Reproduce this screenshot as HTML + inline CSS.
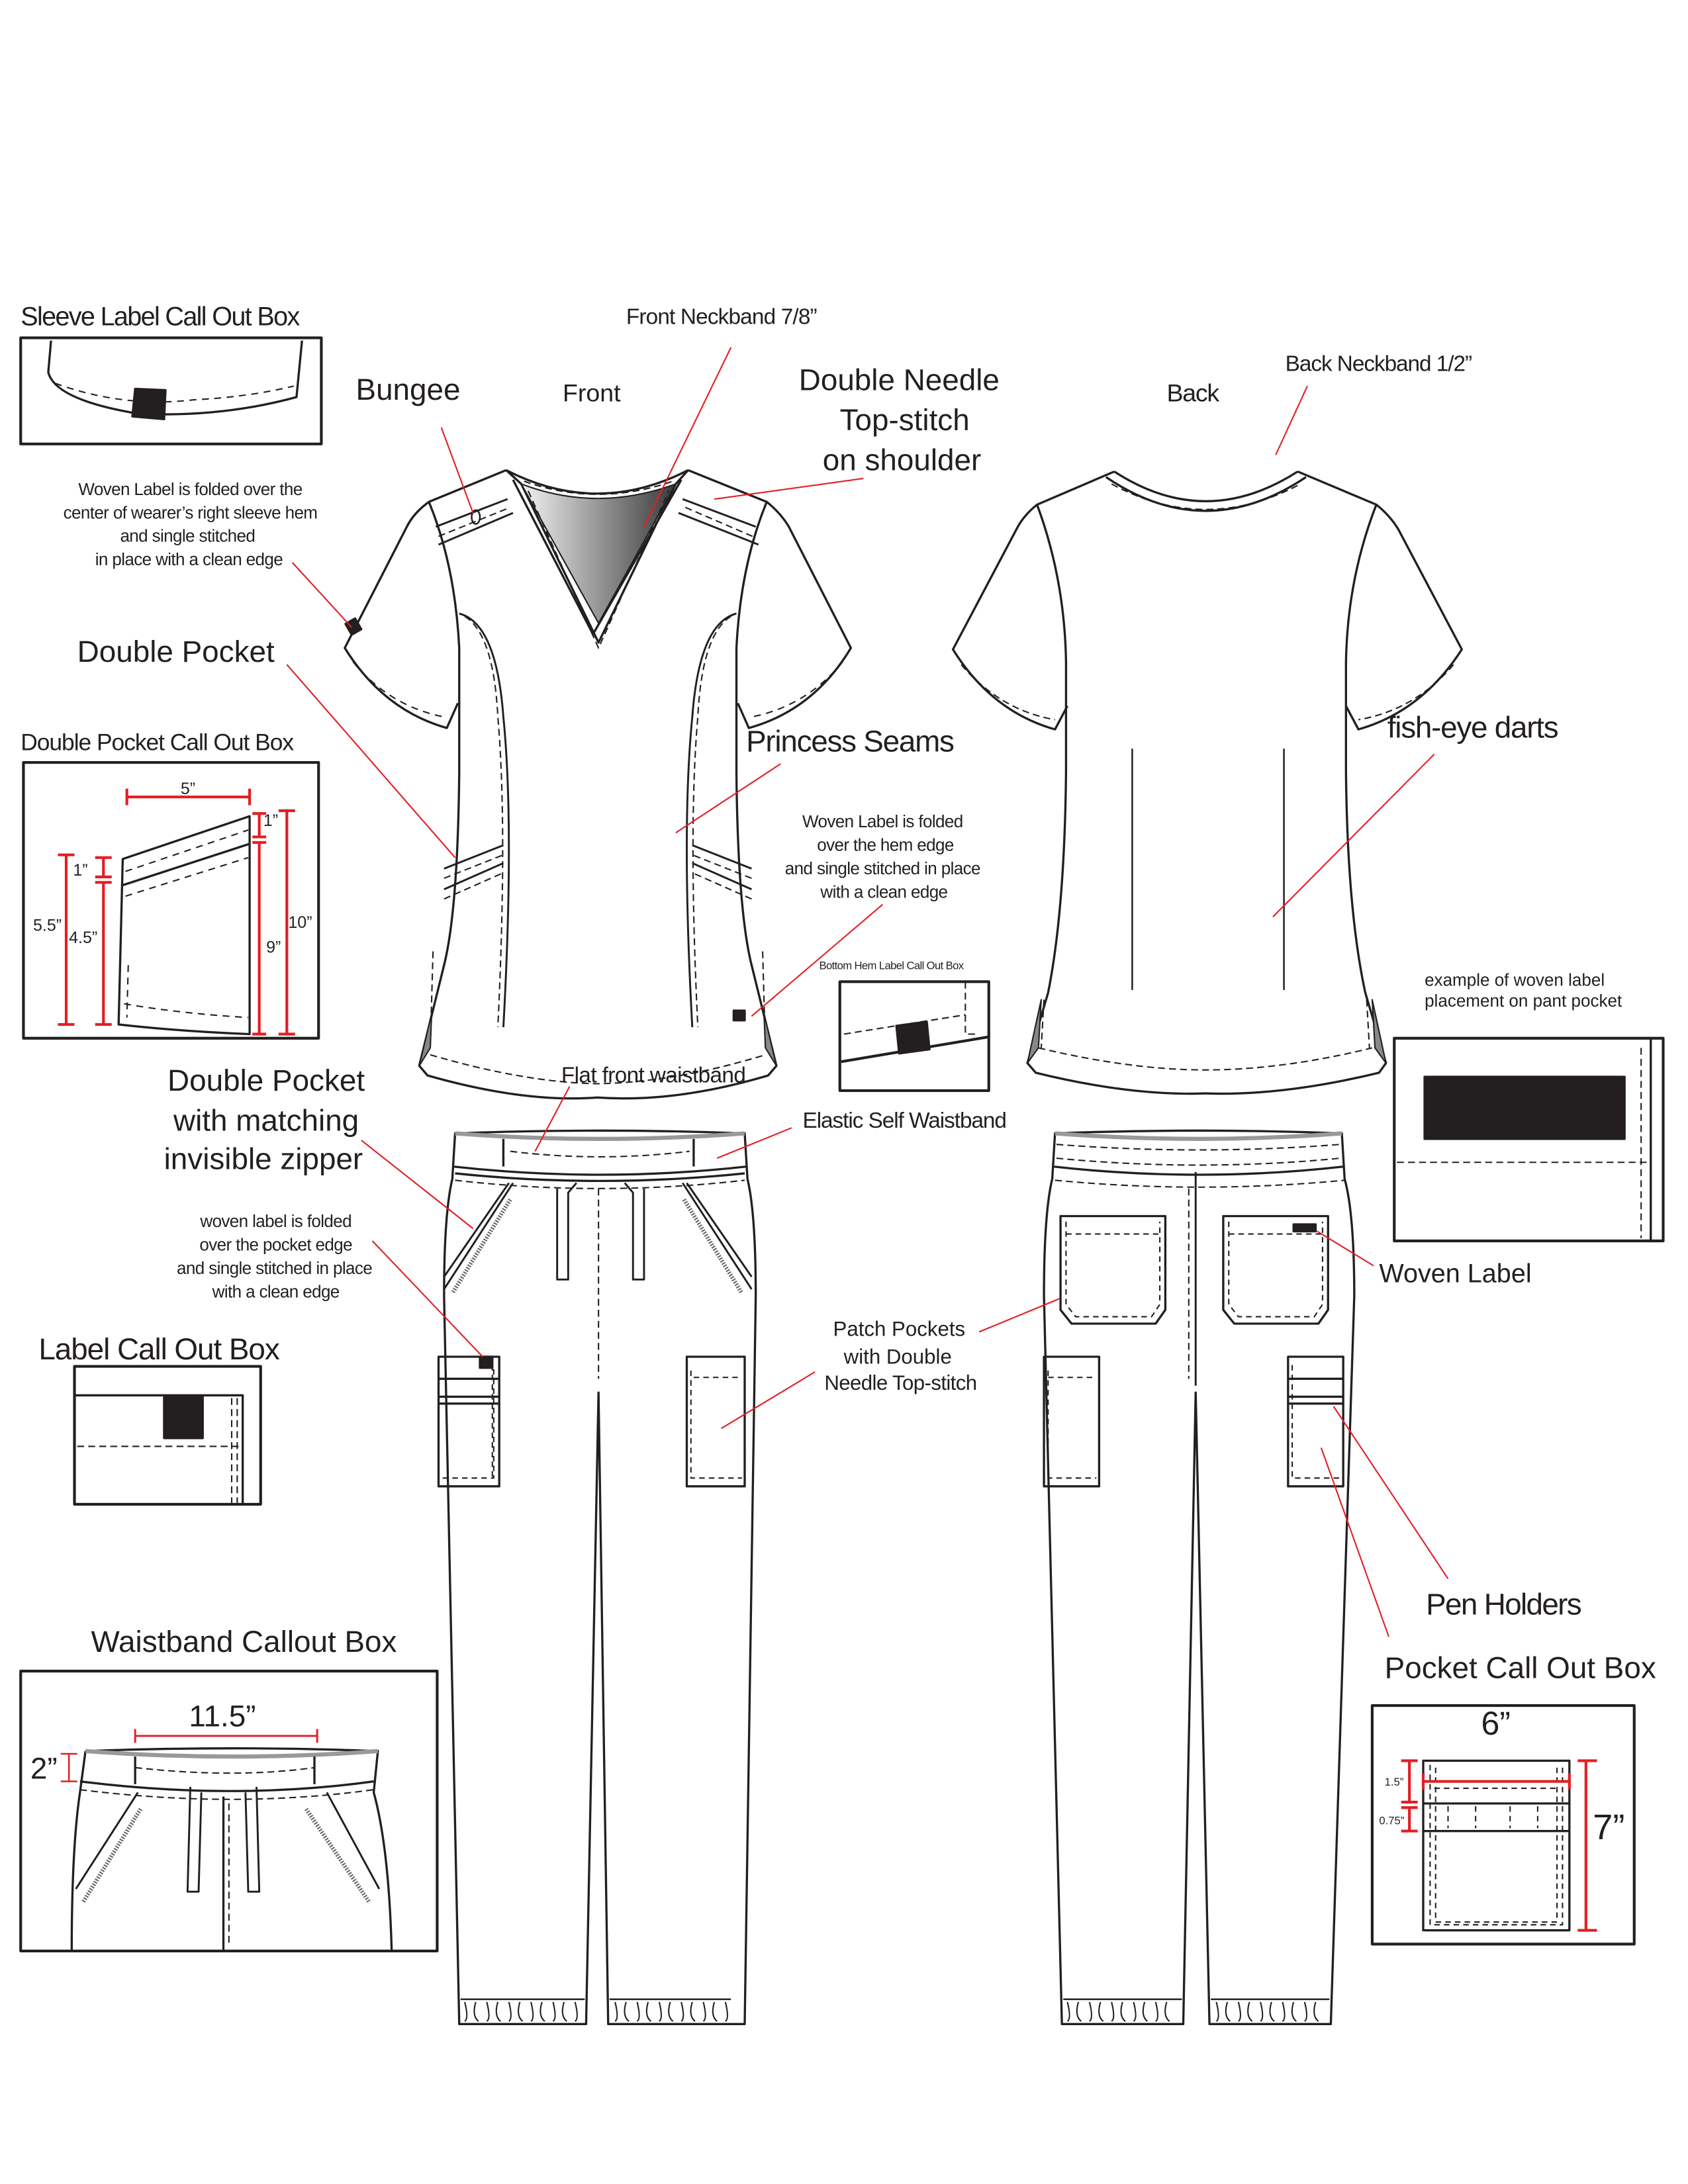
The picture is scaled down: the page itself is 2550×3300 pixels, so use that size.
<!DOCTYPE html>
<html><head><meta charset="utf-8"><style>
html,body{margin:0;padding:0;background:#fff}
svg{display:block}
text{font-family:"Liberation Sans",sans-serif;fill:#231f20}
</style></head><body>
<svg width="2550" height="3300" viewBox="0 0 1224 1584" preserveAspectRatio="none" xmlns="http://www.w3.org/2000/svg">
<defs>
<linearGradient id="g" x1="0" x2="1" y1="0" y2="0"><stop offset="0" stop-color="#f2f2f2"/><stop offset="1" stop-color="#3a3a3a"/></linearGradient>
</defs>
<rect width="1224" height="1584" fill="#fff"/>
<g fill="none" stroke="#231f20" stroke-width="1.6" stroke-linejoin="round">

<!-- ===== Sleeve callout box ===== -->
<rect x="15" y="245" width="218" height="77" stroke-width="2"/>
<path d="M37 247 L35 270 Q40 290 100 300 Q160 303 215 288 L219 247"/>
<path d="M40 278 Q90 296 140 290 Q180 288 213 280" stroke-dasharray="5 4" stroke-width="1"/>
<polygon points="98,282 120,283 119,304 96,302" fill="#231f20"/>

<!-- ===== Double pocket callout ===== -->
<rect x="17" y="553" width="214" height="200" stroke-width="2"/>
<path d="M89 623 L181 592 L181 750 Q130 748 86 743 Z"/>
<path d="M89 642 L181 612"/>
<path d="M91 632 L180 602 M91 650 L180 622 M90 728 Q130 735 180 738 M93 700 L92 738" stroke-dasharray="5 4" stroke-width="1"/>
</g>
<g stroke="#e31e24" stroke-width="2" fill="none">
<path d="M92 578 L181 578 M92 572 V584 M181 572 V584"/>
<path d="M48 620 V743 M42 620 H54 M42 743 H54"/>
<path d="M75 622 V636 M69 622 H81 M69 636 H81 M75 640 V743 M69 640 H81 M69 743 H81"/>
<path d="M188 590 V607 M183 590 H193 M183 607 H193 M188 611 V750 M183 611 H193 M183 750 H193"/>
<path d="M208 588 V750 M202 588 H214 M202 750 H214"/>
</g>

<g fill="none" stroke="#231f20" stroke-width="1.6" stroke-linejoin="round">
<!-- ===== Front top ===== -->
<path d="M367 341 L311 364 Q300 372 295 382 L250 470 Q278 515 324 528 L332 510"/>
<path d="M499 341 L556 364 Q566 372 572 382 L617 470 Q590 515 543 528 L535 510"/>
<path d="M311 364 Q330 410 333 470 L333 560 Q332 660 322 700 L304 773 L310 780 Q380 800 433 796 Q490 800 557 780 L563 773 L545 700 Q535 660 534 560 L534 470 Q537 410 556 364"/>
<path d="M367 341 Q433 375 499 341"/>
<path d="M372 348 L430 460 L494 348"/>
<path d="M367 341 L378 351 L434 466 L490 351 L499 341"/>
<path d="M378 351 Q433 372 490 351 L434 452 Z" fill="url(#g)" stroke-width="1"/>
<path d="M318 395 L372 372 M316 382 L368 362 M495 362 L548 382 M492 372 L550 395" stroke-width="1.4"/>
<path d="M318 389 L370 368 M497 368 L548 390 M383 356 L434 470 L485 356 M380 349 Q433 368 488 349" stroke-dasharray="5 3" stroke-width="1"/>
<ellipse cx="345" cy="375" rx="3" ry="5" stroke-width="1.2"/>
<path d="M256 480 Q282 512 322 520 M611 480 Q585 512 545 520" stroke-dasharray="5 4" stroke-width="1"/>
<path d="M333 445 Q360 452 365 520 Q373 600 365 745 M534 445 Q507 452 502 520 Q494 600 502 745" stroke-width="1.4"/>
<path d="M337 447 Q358 460 361 520 Q368 600 361 745 M530 447 Q509 460 506 520 Q499 600 506 745" stroke-dasharray="5 3" stroke-width="1"/>
<path d="M322 630 L365 613 M322 645 L365 626 M545 630 L502 613 M545 645 L502 626" stroke-width="1.4"/>
<path d="M322 637 L365 620 M322 652 L365 633 M545 637 L502 620 M545 652 L502 633" stroke-dasharray="5 3" stroke-width="1"/>
<path d="M312 765 Q380 785 433 786 Q490 785 555 765 M314 690 L312 760 M553 690 L555 760" stroke-dasharray="5 3" stroke-width="1"/>
<path d="M304 773 L313 735 L312 760 Z M563 773 L554 735 L555 760 Z" fill="#888" stroke-width="1"/>
<rect x="252" y="450" width="8" height="9" fill="#231f20" transform="rotate(-30 256 454)"/>
<rect x="532" y="733" width="8" height="7" fill="#231f20"/>

<!-- ===== Back top ===== -->
<path d="M808 342 L752 366 Q742 374 737 384 L691 471 Q719 516 765 529 L774 512"/>
<path d="M941 342 L998 366 Q1008 374 1014 384 L1060 471 Q1031 516 985 529 L976 512"/>
<path d="M752 366 Q772 420 773 480 L773 560 Q772 660 760 720 L745 771 L751 778 Q820 795 874 793 Q930 795 1000 778 L1005 771 L990 720 Q977 660 976 560 L976 480 Q977 420 998 366"/>
<path d="M808 342 Q874 385 941 342 M802 346 Q874 395 947 346"/>
<path d="M806 351 Q874 388 943 351 M697 482 Q725 515 765 522 M1054 482 Q1026 515 985 522 M753 760 Q820 776 874 776 Q930 776 995 760 M757 725 L755 760 M991 725 L993 760" stroke-dasharray="5 3" stroke-width="1"/>
<path d="M821 543 L821 718 M931 543 L931 718" stroke-width="1.2"/>
<path d="M745 771 L755 725 L753 760 Z M1005 771 L995 725 L997 760 Z" fill="#888" stroke-width="1"/>

<!-- bottom hem callout -->
<rect x="609" y="712" width="108" height="79" stroke-width="2"/>
<path d="M610 770 L717 752" stroke-width="2"/>
<path d="M612 750 L700 736 M700 712 L700 750 L710 750" stroke-dasharray="5 3" stroke-width="1"/>
<polygon points="650,744 672,741 674,761 652,764" fill="#231f20"/>

<!-- pant pocket example -->
<rect x="1011" y="753" width="195" height="147" stroke-width="2"/>
<path d="M1197 753 V900"/>
<rect x="1033" y="781" width="145" height="45" fill="#231f20"/>
<path d="M1013 843 H1195 M1190 760 V898" stroke-dasharray="5 3" stroke-width="1"/>

<!-- ===== Front pants ===== -->
<path d="M330 822 Q435 818 540 822 L542 855 Q548 880 548 940 L540 1468 L441 1468 L434 1010 L425 1468 L333 1468 L322 940 Q322 880 328 855 Z"/>
<path d="M330 822 Q435 830 540 822" stroke="#999" stroke-width="3"/>
<path d="M328 846 Q435 858 542 846 M330 851 Q435 862 540 851"/>
<path d="M365 826 L365 846 M503 826 L503 846"/>
<path d="M370 835 Q435 843 500 835 M330 856 Q435 868 540 856 M434 862 V1000" stroke-dasharray="5 3" stroke-width="1"/>
<path d="M404 862 L404 928 L412 928 L412 865 L418 858 M467 862 L467 928 L459 928 L459 865 L453 858" stroke-width="1.4"/>
<path d="M369 858 L322 926 M372 858 L322 935 M498 858 L545 926 M495 858 L545 935" stroke-width="1.4"/>
<path d="M370 870 L328 938 M496 870 L538 938" stroke="#666" stroke-width="3" stroke-dasharray="1 1"/>
<rect x="318" y="984" width="44" height="94"/>
<path d="M318 1000 H362 M318 1013 H362 M318 1018 H362"/>
<path d="M321 1072 H358 L358 990 M357 990 V1072" stroke-dasharray="4 3" stroke-width="1"/>
<rect x="348" y="984" width="9" height="8" fill="#231f20"/>
<rect x="498" y="984" width="42" height="94"/>
<path d="M501 994 V1072 H538 M503 999 H538" stroke-dasharray="4 3" stroke-width="1"/>
<path d="M334 1450 H424 M442 1450 H530" stroke-width="1.2"/>
<path d="M337 1452 q3 12 0 14 M345 1452 q-3 10 2 14 M353 1452 q3 12 0 14 M361 1452 q-3 10 2 14 M369 1452 q3 12 0 14 M377 1452 q-3 10 2 14 M385 1452 q3 12 0 14 M393 1452 q-3 10 2 14 M401 1452 q3 12 0 14 M409 1452 q-3 10 2 14 M417 1452 q3 12 0 14 M446 1452 q3 12 0 14 M454 1452 q-3 10 2 14 M462 1452 q3 12 0 14 M470 1452 q-3 10 2 14 M478 1452 q3 12 0 14 M486 1452 q-3 10 2 14 M494 1452 q3 12 0 14 M502 1452 q-3 10 2 14 M510 1452 q3 12 0 14 M518 1452 q-3 10 2 14 M526 1452 q3 12 0 14" stroke-width="1"/>

<!-- ===== Back pants ===== -->
<path d="M765 822 Q870 818 973 822 L975 855 Q982 880 982 940 L965 1468 L877 1468 L867 1010 L858 1468 L770 1468 L757 940 Q757 880 763 855 Z"/>
<path d="M765 822 Q870 830 973 822" stroke="#999" stroke-width="3"/>
<path d="M763 846 Q870 858 975 846"/>
<path d="M766 830 Q870 838 972 830 M766 840 Q870 850 972 840 M765 856 Q870 866 975 856 M862 862 V1000" stroke-dasharray="5 3" stroke-width="1"/>
<path d="M867 850 V1005" stroke-width="1.4"/>
<path d="M769 882 H845 V950 L838 960 H777 L769 950 Z M887 882 H963 V950 L956 960 H895 L887 950 Z"/>
<path d="M773 886 V946 L780 955 H835 L841 946 V886 M773 895 H841 M891 886 V946 L898 955 H953 L959 946 V886 M891 895 H959" stroke-dasharray="4 3" stroke-width="1"/>
<rect x="938" y="888" width="16" height="5" fill="#231f20"/>
<rect x="757" y="984" width="40" height="94"/>
<path d="M760 994 V1072 H795 M760 999 H795" stroke-dasharray="4 3" stroke-width="1"/>
<rect x="934" y="984" width="40" height="94"/>
<path d="M934 1000 H974 M934 1013 H974 M934 1018 H974"/>
<path d="M937 990 V1072 H972" stroke-dasharray="4 3" stroke-width="1"/>
<path d="M771 1450 H857 M878 1450 H964" stroke-width="1.2"/>
<path d="M774 1452 q3 12 0 14 M782 1452 q-3 10 2 14 M790 1452 q3 12 0 14 M798 1452 q-3 10 2 14 M806 1452 q3 12 0 14 M814 1452 q-3 10 2 14 M822 1452 q3 12 0 14 M830 1452 q-3 10 2 14 M838 1452 q3 12 0 14 M846 1452 q-3 10 2 14 M882 1452 q3 12 0 14 M890 1452 q-3 10 2 14 M898 1452 q3 12 0 14 M906 1452 q-3 10 2 14 M914 1452 q3 12 0 14 M922 1452 q-3 10 2 14 M930 1452 q3 12 0 14 M938 1452 q-3 10 2 14 M946 1452 q3 12 0 14 M954 1452 q-3 10 2 14" stroke-width="1"/>

<!-- label callout box -->
<rect x="54" y="991" width="135" height="100" stroke-width="2"/>
<path d="M54 1012 H176 V1091"/>
<rect x="119" y="1013" width="28" height="30" fill="#231f20"/>
<path d="M56 1049 H174 M168 1014 V1090 M172 1014 V1090" stroke-dasharray="5 3" stroke-width="1"/>

<!-- waistband callout -->
<rect x="15" y="1212" width="302" height="203" stroke-width="2"/>
<path d="M62 1270 Q170 1266 274 1270 L271 1300 Q282 1340 284 1415 M62 1270 L58 1300 Q52 1340 52 1415"/>
<path d="M62 1270 Q170 1278 274 1270" stroke="#999" stroke-width="3"/>
<path d="M58 1292 Q170 1306 271 1292 M98 1274 V1294 M228 1274 V1294 M162 1303 V1415"/>
<path d="M98 1282 Q170 1290 228 1282 M58 1298 Q170 1312 271 1298 M166 1308 V1412" stroke-dasharray="5 3" stroke-width="1"/>
<path d="M138 1296 L136 1372 L144 1372 L146 1300 M186 1296 L188 1372 L180 1372 L178 1300" stroke-width="1.4"/>
<path d="M100 1300 L55 1370 M237 1300 L275 1370" stroke-width="1.4"/>
<path d="M102 1312 L60 1380 M222 1312 L268 1380" stroke="#666" stroke-width="3" stroke-dasharray="1 1"/>

<!-- pocket callout -->
<rect x="995" y="1237" width="190" height="173" stroke-width="2"/>
<rect x="1032" y="1277" width="106" height="123"/>
<path d="M1032 1308 H1138 M1032 1328 H1138"/>
<path d="M1037 1280 V1396 H1133 V1280 M1041 1282 V1394 H1129 V1282 M1040 1297 H1130 M1050 1310 V1326 M1070 1310 V1326 M1095 1310 V1326 M1115 1310 V1326" stroke-dasharray="4 3" stroke-width="1"/>
</g>
<g stroke="#e31e24" stroke-width="2" fill="none">
<path d="M1032 1292 H1138 M1032 1286 V1298 M1138 1286 V1298"/>
<path d="M1150 1277 V1400 M1144 1277 H1158 M1144 1400 H1158"/>
<path d="M1022 1277 V1307 M1016 1277 H1028 M1016 1307 H1028 M1022 1311 V1328 M1016 1311 H1028 M1016 1328 H1028"/>
<path d="M98 1259 H230 M98 1254 V1264 M230 1254 V1264" stroke-width="1.4"/>
<path d="M50 1272 V1292 M44 1272 H56 M44 1292 H56" stroke-width="1.2"/>
</g>

<!-- red leader lines -->
<g stroke="#e31e24" stroke-width="1" fill="none">
<path d="M320 310 L343 372"/>
<path d="M530 252 L467 382"/>
<path d="M626 347 L518 362"/>
<path d="M948 280 L925 330"/>
<path d="M212 408 L255 455"/>
<path d="M208 482 L330 622"/>
<path d="M566 554 L490 604"/>
<path d="M640 656 L545 737"/>
<path d="M1040 547 L923 665"/>
<path d="M413 788 L388 835"/>
<path d="M574 818 L520 840"/>
<path d="M262 827 L343 891"/>
<path d="M270 900 L350 984"/>
<path d="M591 995 L523 1036"/>
<path d="M710 966 L768 942"/>
<path d="M996 918 L955 893"/>
<path d="M1050 1145 L967 1020"/>
<path d="M1007 1187 L958 1050"/>
</g>

<!-- text -->
<g font-size="19">
<text x="15" y="236" letter-spacing="-0.8">Sleeve Label Call Out Box</text>
<text x="258" y="290" font-size="22">Bungee</text>
<text x="408" y="291" font-size="18">Front</text>
<text x="454" y="235" font-size="16" letter-spacing="-0.4">Front Neckband 7/8”</text>
<text x="652" y="283" font-size="22" text-anchor="middle">Double Needle</text>
<text x="656" y="312" font-size="22" text-anchor="middle">Top-stitch</text>
<text x="654" y="341" font-size="22" text-anchor="middle">on shoulder</text>
<text x="846" y="291" font-size="18" letter-spacing="-0.6">Back</text>
<text x="932" y="269" font-size="16" letter-spacing="-0.5">Back Neckband 1/2”</text>
<g font-size="12.5" text-anchor="middle" letter-spacing="-0.3">
<text x="138" y="359">Woven Label is folded  over the</text>
<text x="138" y="376">center of wearer’s right  sleeve hem</text>
<text x="136" y="393">and single stitched</text>
<text x="137" y="410">in place with  a clean edge</text>
<text x="640" y="600">Woven Label is folded</text>
<text x="642" y="617">over the hem edge</text>
<text x="640" y="634">and single stitched in place</text>
<text x="641" y="651">with  a clean edge</text>
<text x="200" y="890">woven label is folded</text>
<text x="200" y="907">over the pocket edge</text>
<text x="199" y="924">and single stitched in place</text>
<text x="200" y="941">with  a clean edge</text>
</g>
<text x="56" y="480" font-size="22">Double Pocket</text>
<text x="15" y="544" font-size="17" letter-spacing="-0.5">Double Pocket Call Out Box</text>
<text x="541" y="545" font-size="22" letter-spacing="-0.6">Princess Seams</text>
<text x="1006" y="535" font-size="22" letter-spacing="-0.6">fish-eye darts</text>
<text x="594" y="703" font-size="8" letter-spacing="-0.3">Bottom Hem Label Call Out Box</text>
<text x="1033" y="715" font-size="12.5">example  of woven label</text>
<text x="1033" y="730" font-size="12.5">placement on pant pocket</text>
<text x="193" y="791" font-size="22" text-anchor="middle">Double Pocket</text>
<text x="193" y="820" font-size="22" text-anchor="middle">with matching</text>
<text x="191" y="848" font-size="22" text-anchor="middle">invisible zipper</text>
<text x="407" y="785" font-size="16" letter-spacing="-0.3">Flat front waistband</text>
<text x="582" y="818" font-size="16" letter-spacing="-0.5">Elastic Self Waistband</text>
<text x="28" y="986" font-size="22" letter-spacing="-0.5">Label Call Out Box</text>
<text x="652" y="969" font-size="15" text-anchor="middle">Patch Pockets</text>
<text x="651" y="989" font-size="15" text-anchor="middle">with Double</text>
<text x="653" y="1008" font-size="15" text-anchor="middle" letter-spacing="-0.3">Needle Top-stitch</text>
<text x="1000" y="930" font-size="19">Woven Label</text>
<text x="1034" y="1171" font-size="22" letter-spacing="-0.8">Pen Holders</text>
<text x="1004" y="1217" font-size="22">Pocket Call Out Box</text>
<text x="66" y="1198" font-size="22">Waistband Callout Box</text>
<text x="137" y="1252" font-size="22">11.5”</text>
<text x="22" y="1290" font-size="22">2”</text>
<text x="1074" y="1258" font-size="24">6”</text>
<text x="1155" y="1334" font-size="26">7”</text>
<text x="1004" y="1295" font-size="8">1.5”</text>
<text x="1000" y="1323" font-size="8">0.75”</text>
<text x="131" y="576" font-size="12">5”</text>
<text x="191" y="599" font-size="12">1”</text>
<text x="53" y="635" font-size="12">1”</text>
<text x="24" y="675" font-size="12">5.5”</text>
<text x="50" y="684" font-size="12">4.5”</text>
<text x="193" y="691" font-size="12">9”</text>
<text x="209" y="673" font-size="12">10”</text>
</g>
</svg>
</body></html>
